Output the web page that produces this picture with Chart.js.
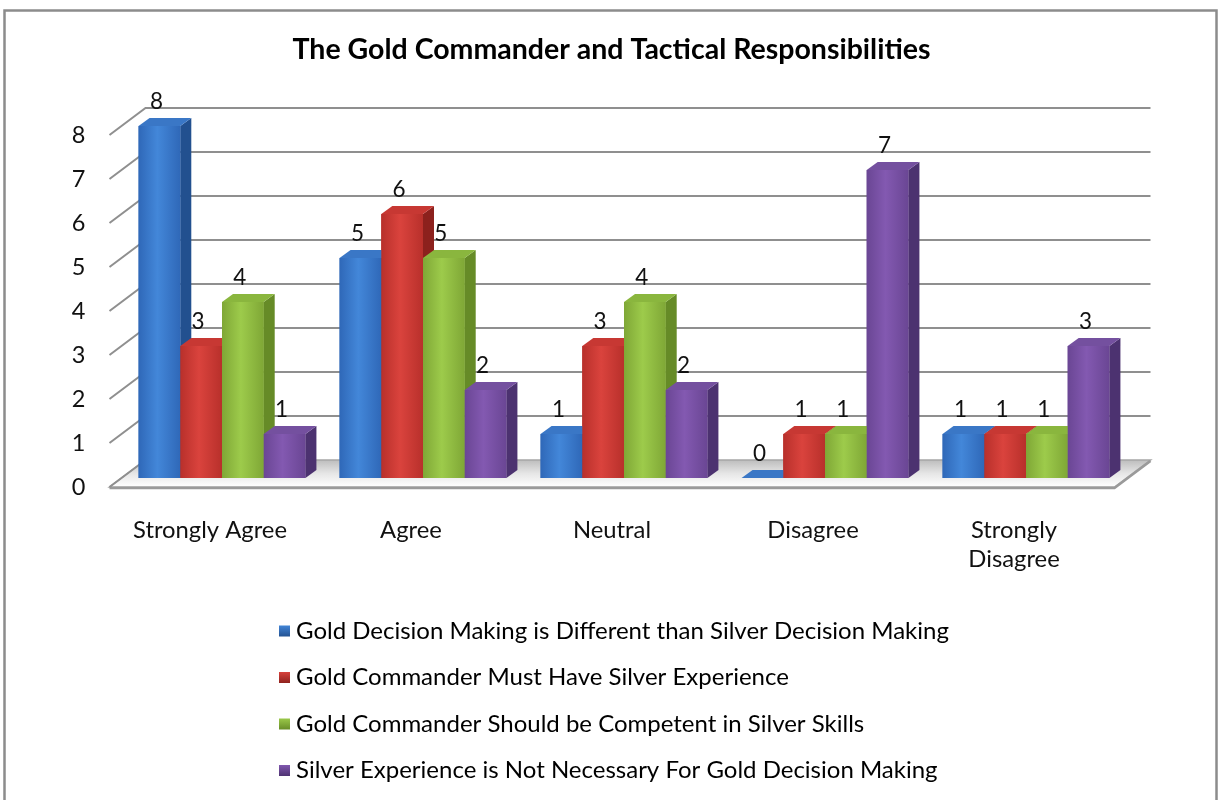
<!DOCTYPE html>
<html>
<head>
<meta charset="utf-8">
<title>The Gold Commander and Tactical Responsibilities</title>
<script src="https://cdn.jsdelivr.net/npm/chart.js@4.4.1/dist/chart.umd.min.js"></script>
<style>
  html, body { margin: 0; padding: 0; background: #ffffff; }
  #wrap { width: 1223px; height: 800px; position: relative; overflow: hidden; }
</style>
</head>
<body>
<div id="wrap"><canvas id="chart" width="1223" height="800"></canvas></div>
<script>
// ---- data ----
const categories = ["Strongly Agree", "Agree", "Neutral", "Disagree", ["Strongly", "Disagree"]];
const seriesNames = [
  "Gold Decision Making is Different than Silver Decision Making",
  "Gold Commander Must Have Silver Experience",
  "Gold Commander Should be Competent in Silver Skills",
  "Silver Experience is Not Necessary For Gold Decision Making"
];
const decisionDifferent = [8, 5, 1, 0, 1];
const mustHaveSilver    = [3, 6, 3, 1, 1];
const competentSilver   = [4, 5, 4, 1, 1];
const notNecessary      = [1, 2, 2, 7, 3];
const yTicks = [0, 1, 2, 3, 4, 5, 6, 7, 8];
const chartTitle = "The Gold Commander and Tactical Responsibilities";

// ---- styling ----
const FONT = "Lato";
const palette = [
  { edge: "#2f68b8", mid: "#4387d9", side: "#22508f", top: "#3a77c6" },
  { edge: "#b8302b", mid: "#da433d", side: "#8c211d", top: "#c73833" },
  { edge: "#7fa736", mid: "#9dcb4b", side: "#668b27", top: "#8ab63e" },
  { edge: "#6a4694", mid: "#8359b1", side: "#4c3270", top: "#74509f" }
];
// oblique projection offsets (pixels)
const BAR_DEPTH = { dx: 11, dy: -8 };     // depth of each column
const FLOOR_FRONT = { dx: -12, dy: 9 };   // front edge of floor relative to bar plane
const WALL = { dx: 24, dy: -18 };         // back wall relative to bar plane

function frontGradient(ctx, left, right, c) {
  const g = ctx.createLinearGradient(left, 0, right, 0);
  g.addColorStop(0, c.edge);
  g.addColorStop(0.45, c.mid);
  g.addColorStop(1, c.edge);
  return g;
}

function poly(ctx, pts, fill, stroke) {
  ctx.beginPath();
  ctx.moveTo(pts[0][0], pts[0][1]);
  for (let i = 1; i < pts.length; i++) ctx.lineTo(pts[i][0], pts[i][1]);
  ctx.closePath();
  if (fill) { ctx.fillStyle = fill; ctx.fill(); }
  if (stroke) { ctx.strokeStyle = stroke.color; ctx.lineWidth = stroke.width; ctx.stroke(); }
}

const threeD = {
  id: "threeD",
  beforeDraw(chart) {
    const ctx = chart.ctx;
    ctx.save();
    ctx.fillStyle = "#ffffff";
    ctx.fillRect(0, 0, chart.width, chart.height);
    // outer frame
    ctx.strokeStyle = "#8c8c8c";
    ctx.lineWidth = 2.5;
    ctx.strokeRect(4.5, 10.5, 1212, 900);
    ctx.restore();
  },
  beforeDatasetsDraw(chart) {
    const ctx = chart.ctx;
    const { left, right } = chart.chartArea;
    const y = chart.scales.y;
    const y0 = y.getPixelForValue(0);
    ctx.save();
    // floor slab
    const fl = [
      [left + FLOOR_FRONT.dx, y0 + FLOOR_FRONT.dy],
      [right + FLOOR_FRONT.dx, y0 + FLOOR_FRONT.dy],
      [right + WALL.dx, y0 + WALL.dy],
      [left + WALL.dx, y0 + WALL.dy]
    ];
    const fg = ctx.createLinearGradient(0, y0 + WALL.dy, 0, y0 + FLOOR_FRONT.dy);
    fg.addColorStop(0, "#bdbdbd");
    fg.addColorStop(0.5, "#e6e6e6");
    fg.addColorStop(1, "#ffffff");
    poly(ctx, fl, fg, { color: "#a6a6a6", width: 1.5 });
    ctx.strokeStyle = "#9a9a9a";
    ctx.lineWidth = 2.5;
    ctx.beginPath();
    ctx.moveTo(fl[0][0], fl[0][1] + 1);
    ctx.lineTo(fl[1][0], fl[1][1] + 1);
    ctx.lineTo(fl[2][0], fl[2][1] + 1);
    ctx.stroke();
    // back wall gridlines and left-side diagonals
    ctx.strokeStyle = "#8f8f8f";
    ctx.lineWidth = 2;
    yTicks.forEach(v => {
      const py = y.getPixelForValue(v);
      ctx.beginPath();
      ctx.moveTo(left + FLOOR_FRONT.dx, py + FLOOR_FRONT.dy);
      ctx.lineTo(left + WALL.dx, py + WALL.dy);
      if (v > 0) ctx.lineTo(right + WALL.dx, py + WALL.dy);
      ctx.stroke();
    });
    ctx.restore();
  },
  afterDatasetsDraw(chart) {
    const ctx = chart.ctx;
    const metas = chart.data.datasets.map((d, i) => chart.getDatasetMeta(i));
    const n = chart.data.labels.length;
    ctx.save();
    for (let c = 0; c < n; c++) {
      metas.forEach((meta, di) => {
        const el = meta.data[c];
        const p = el.getProps(["x", "y", "base", "width"], true);
        const l = p.x - p.width / 2, r = p.x + p.width / 2;
        const t = Math.min(p.y, p.base), b = Math.max(p.y, p.base);
        const col = palette[di];
        const { dx, dy } = BAR_DEPTH;
        // right side
        poly(ctx, [[r, t], [r + dx, t + dy], [r + dx, b + dy], [r, b]], col.side);
        // top
        poly(ctx, [[l, t], [l + dx, t + dy], [r + dx, t + dy], [r, t]], col.top);
        // front
        if (b - t > 0) {
          ctx.fillStyle = frontGradient(ctx, l, r, col);
          ctx.fillRect(l, t, r - l, b - t);
        }
      });
    }
    // value labels
    ctx.fillStyle = "#111111";
    ctx.font = "22.5px " + FONT;
    ctx.textAlign = "center";
    ctx.textBaseline = "middle";
    metas.forEach((meta, di) => {
      meta.data.forEach((el, i) => {
        const p = el.getProps(["x", "y"], true);
        ctx.fillText(String(chart.data.datasets[di].data[i]), p.x - 3, p.y - 24);
      });
    });
    ctx.restore();
  },
  afterDraw(chart) {
    // legend: one entry per row
    const ctx = chart.ctx;
    ctx.save();
    ctx.font = "24px " + FONT;
    ctx.textAlign = "left";
    ctx.textBaseline = "middle";
    chart.data.datasets.forEach((ds, i) => {
      const cy = 631 + i * 46.5;
      const col = palette[i];
      const g = ctx.createLinearGradient(0, cy - 6, 0, cy + 6);
      g.addColorStop(0, col.mid);
      g.addColorStop(1, col.side);
      ctx.fillStyle = g;
      ctx.fillRect(279, cy - 5.5, 11, 11);
      ctx.fillStyle = "#000000";
      ctx.fillText(ds.label, 296, cy);
    });
    ctx.restore();
  }
};

const series = [decisionDifferent, mustHaveSilver, competentSilver, notNecessary];

new Chart(document.getElementById("chart"), {
  type: "bar",
  data: {
    labels: categories,
    datasets: series.map((vals, i) => ({
      label: seriesNames[i],
      data: vals,
      backgroundColor: palette[i].edge,
      borderWidth: 0,
      categoryPercentage: 0.83,
      barPercentage: 1.0
    }))
  },
  options: {
    responsive: false,
    animation: false,
    devicePixelRatio: 1,
    layout: { padding: 0 },
    plugins: {
      legend: { display: false },
      tooltip: { enabled: false },
      title: {
        display: true,
        text: chartTitle,
        color: "#000000",
        font: { family: FONT, size: 28.5, weight: "bold", lineHeight: 1.2 },
        padding: { top: 33, bottom: 58.8 }
      }
    },
    scales: {
      x: {
        grid: { display: false },
        border: { display: false },
        ticks: {
          color: "#111111",
          font: { family: FONT, size: 23.8, lineHeight: 1.2 },
          padding: 30.5,
          labelOffset: FLOOR_FRONT.dx,
          maxRotation: 0,
          minRotation: 0,
          autoSkip: false
        },
        afterFit(scale) { scale.height = 322; }
      },
      y: {
        min: 0,
        max: 8,
        grid: { display: false },
        border: { display: false },
        ticks: {
          color: "#111111",
          font: { family: FONT, size: 23.5 },
          padding: 28,
          crossAlign: "center",
          labelOffset: FLOOR_FRONT.dy
        },
        afterBuildTicks(scale) { scale.ticks = yTicks.map(v => ({ value: v })); },
        afterFit(scale) { scale.width = 121.5; }
      },
      yRight: {
        position: "right",
        display: true,
        grid: { display: false },
        border: { display: false },
        ticks: { display: false },
        afterFit(scale) { scale.width = 96.5; }
      }
    }
  },
  plugins: [threeD]
});
</script>
</body>
</html>
